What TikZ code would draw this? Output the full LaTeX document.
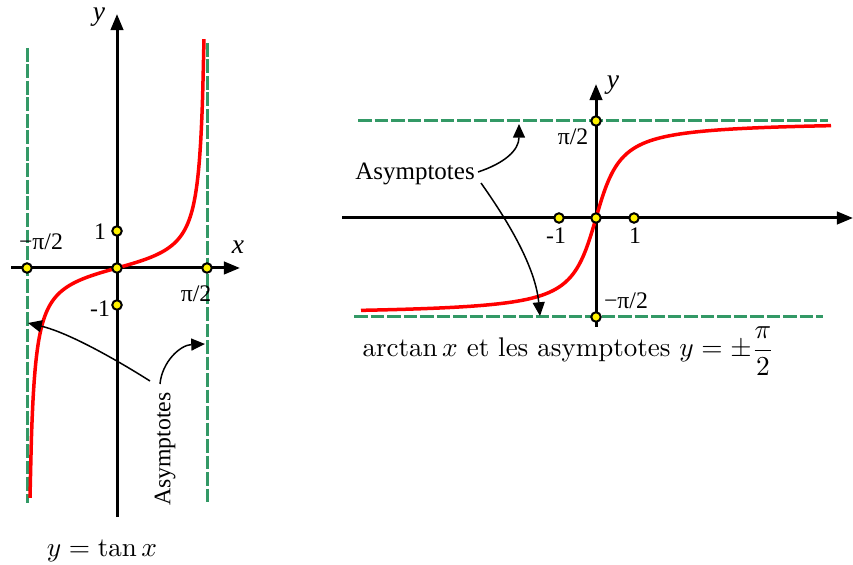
\documentclass[tikz,border=0pt]{standalone}
\usepackage{fontspec}
\newfontfamily\tms{Liberation Serif}
\usetikzlibrary{arrows.meta}
\begin{document}
\begin{tikzpicture}[x=0.4pt,y=-0.4pt,
  axis/.style={line width=1.2pt,-{Triangle[length=6.5pt,width=5pt]}},
  asym/.style={line width=1.2pt,draw={rgb,255:red,51;green,153;blue,102},dash pattern=on 5.5pt off 1.1pt},
  curve/.style={line width=1.4pt,red},
  dot/.style={circle,draw=black,fill=yellow,line width=0.8pt,minimum size=3.8pt,inner sep=0pt},
  lbl/.style={font=\tms\fontsize{9.5}{11}\selectfont,inner sep=0pt},
  axl/.style={font=\tms\itshape\fontsize{11}{13}\selectfont,inner sep=0pt},
  captxt/.style={font=\fontsize{10.8}{13}\selectfont,inner sep=0pt},
  ptr/.style={line width=0.6pt,-{Triangle[length=5.5pt,width=4.8pt]}}]
\useasboundingbox (0,0) rectangle (853,565);
% ---------- left: tan ----------
\coordinate (lxs) at (11,268); \coordinate (lxe) at (240,268);
\coordinate (lys) at (117,517); \coordinate (lye) at (117,14);
\draw[axis] (lxs) -- (lxe);
\draw[axis] (lys) -- (lye);
\coordinate (la1) at (27,48); \coordinate (la2) at (27,503);
\coordinate (lb1) at (207,43); \coordinate (lb2) at (207,502);
\draw[asym] (la1) -- (la2);
\draw[asym] (lb1) -- (lb2);
\draw[curve] plot[domain=-1.5:1.5,samples=120,smooth] ({117+58*\x},{268-16.3*tan(\x r)});
\node[dot] (lm) at (27,268) {};
\node[dot] (lo) at (117,268) {};
\node[dot] (lp) at (207,268) {};
\node[dot] (l1) at (117,231) {};
\node[dot] (lm1) at (117,305) {};
\node[axl] (ly) at (99,17) {y};
\node[axl] (lx) at (238,247) {x};
\node[lbl] (l1t) at (100,232) {1};
\node[lbl] (lm1t) at (100,309) {-1};
\node[lbl] (lmt) at (41,242) {−π/2};
\node[lbl] (lpt) at (196,294) {π/2};
\node[lbl,rotate=90] (lasy) at (165,449) {Asymptotes};
\coordinate (lt1) at (28,323);
\coordinate (lt2) at (205,344);
\draw[ptr] (150,381) .. controls (120,362) and (70,333) .. (lt1);
\draw[ptr] (160,384) .. controls (162,362) and (180,345) .. (lt2);
\node[captxt,anchor=base] (lcap) at (102,556) {$y=\tan x$};
% ---------- right: arctan ----------
\coordinate (rxs) at (342,218); \coordinate (rxe) at (853,218);
\coordinate (rys) at (596,327); \coordinate (rye) at (596,84);
\draw[axis] (rxs) -- (rxe);
\draw[axis] (rys) -- (rye);
\coordinate (ra1) at (358,121); \coordinate (ra2) at (828,121);
\coordinate (rb1) at (354,317); \coordinate (rb2) at (823,317);
\draw[asym] (ra1) -- (ra2);
\draw[asym] (rb1) -- (rb2);
\draw[curve] plot[domain=-235:235,samples=160,smooth] ({596+\x},{218-61.8*rad(atan(\x/18))});
\node[dot] (rt) at (596,121) {};
\node[dot] (ro) at (596,218) {};
\node[dot] (rb) at (596,317) {};
\node[dot] (rm1) at (559,218) {};
\node[dot] (rp1) at (634,218) {};
\node[axl] (ry) at (613,85) {y};
\node[lbl] (rtt) at (573,137) {π/2};
\node[lbl] (rbt) at (626,301) {−π/2};
\node[lbl] (rm1t) at (556,236) {-1};
\node[lbl] (rp1t) at (635,236) {1};
\node[lbl,font=\tms\fontsize{10}{12}\selectfont] (rasy) at (415,174) {Asymptotes};
\coordinate (rt1) at (519,124);
\coordinate (rt2) at (540,316);
\draw[ptr] (478,172) .. controls (505,163) and (519,150) .. (rt1);
\draw[ptr] (481,183) .. controls (500,210) and (535,262) .. (rt2);
\node[captxt,anchor=base west] (rcap) at (362,357) {$\arctan x$ et les asymptotes $y=\pm{\displaystyle\frac{\pi}{2}}$};
\end{tikzpicture}
\end{document}
